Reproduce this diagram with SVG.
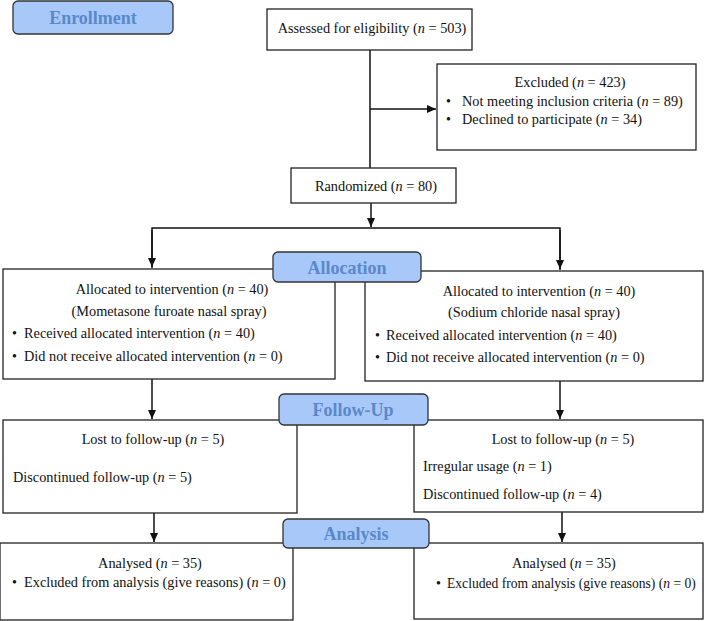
<svg xmlns="http://www.w3.org/2000/svg" width="709" height="621" viewBox="0 0 709 621">
<style>
.box{fill:#fff;stroke:#222;stroke-width:1.3}
.lab{fill:#a8c8fa;stroke:#333;stroke-width:1.3}
.lt{font-family:"Liberation Serif","Times New Roman",serif;font-size:18px;font-weight:bold;fill:#5a88c8;text-anchor:middle}
.t{font-family:"Liberation Serif","Times New Roman",serif;font-size:14.3px;fill:#111}
.t.s{font-size:13.6px}
.c{text-anchor:middle}
.b{font-size:14px}
.ln{stroke:#111;stroke-width:1.5;fill:none}
</style>
<defs>
<marker id="ah" markerWidth="10" markerHeight="10" refX="9" refY="5" orient="auto" markerUnits="userSpaceOnUse">
<path d="M0,1 L9,5 L0,9 Z" fill="#111"/>
</marker>
</defs>
<rect width="709" height="621" fill="#fff"/>

<g id="connectors">
<line class="ln" x1="370" y1="50" x2="370" y2="168"/>
<line class="ln" x1="370" y1="109" x2="436" y2="109" marker-end="url(#ah)"/>
<line class="ln" x1="371" y1="203" x2="371" y2="227" marker-end="url(#ah)"/>
<polyline class="ln" points="152,268 152,228 560,228 560,270"/>
<line class="ln" x1="152" y1="230" x2="152" y2="267" marker-end="url(#ah)"/>
<line class="ln" x1="560" y1="230" x2="560" y2="269" marker-end="url(#ah)"/>
<line class="ln" x1="152" y1="379" x2="152" y2="419" marker-end="url(#ah)"/>
<line class="ln" x1="560" y1="381" x2="560" y2="419" marker-end="url(#ah)"/>
<line class="ln" x1="154" y1="513" x2="154" y2="542" marker-end="url(#ah)"/>
<line class="ln" x1="562" y1="512" x2="562" y2="542" marker-end="url(#ah)"/>
</g>

<g id="enrollment">
<rect class="lab" x="13" y="1" width="160" height="33" rx="5"/>
<text class="lt" x="93" y="24">Enrollment</text>
</g>

<g id="assessed">
<rect class="box" x="267" y="9" width="205" height="41"/>
<text class="t c" x="372" y="33">Assessed for eligibility (<tspan font-style="italic">n</tspan> = 503)</text>
</g>

<g id="excluded">
<rect class="box" x="437" y="64" width="259" height="86"/>
<text class="t c" x="570" y="87">Excluded (<tspan font-style="italic">n</tspan> = 423)</text>
<text class="t" x="446" y="106"><tspan class="b">•</tspan><tspan x="462">Not meeting inclusion criteria (<tspan font-style="italic">n</tspan> = 89)</tspan></text>
<text class="t" x="446" y="124"><tspan class="b">•</tspan><tspan x="462">Declined to participate (<tspan font-style="italic">n</tspan> = 34)</tspan></text>
</g>

<g id="randomized">
<rect class="box" x="291" y="168" width="165" height="35"/>
<text class="t c" x="376" y="191">Randomized (<tspan font-style="italic">n</tspan> = 80)</text>
</g>

<g id="alloc-left">
<rect class="box" x="3" y="269" width="332" height="110"/>
<text class="t c" x="172" y="294">Allocated to intervention (<tspan font-style="italic">n</tspan> = 40)</text>
<text class="t c" x="169" y="316">(Mometasone furoate nasal spray)</text>
<text class="t" x="12" y="338"><tspan class="b">•</tspan><tspan x="24">Received allocated intervention (<tspan font-style="italic">n</tspan> = 40)</tspan></text>
<text class="t" x="12" y="361"><tspan class="b">•</tspan><tspan x="24">Did not receive allocated intervention (<tspan font-style="italic">n</tspan> = 0)</tspan></text>
</g>

<g id="alloc-right">
<rect class="box" x="365" y="271" width="338" height="110"/>
<text class="t c" x="539" y="296">Allocated to intervention (<tspan font-style="italic">n</tspan> = 40)</text>
<text class="t c" x="534" y="317">(Sodium chloride nasal spray)</text>
<text class="t" x="375" y="340"><tspan class="b">•</tspan><tspan x="386">Received allocated intervention (<tspan font-style="italic">n</tspan> = 40)</tspan></text>
<text class="t" x="375" y="362"><tspan class="b">•</tspan><tspan x="386">Did not receive allocated intervention (<tspan font-style="italic">n</tspan> = 0)</tspan></text>
</g>

<g id="allocation">
<rect class="lab" x="273" y="252" width="148" height="30" rx="5"/>
<text class="lt" x="347" y="274">Allocation</text>
</g>

<g id="follow-left">
<rect class="box" x="3" y="420" width="294" height="93"/>
<text class="t c" x="153" y="444">Lost to follow-up (<tspan font-style="italic">n</tspan> = 5)</text>
<text class="t" x="13" y="482">Discontinued follow-up (<tspan font-style="italic">n</tspan> = 5)</text>
</g>

<g id="follow-right">
<rect class="box" x="414" y="420" width="289" height="92"/>
<text class="t c" x="563" y="444">Lost to follow-up (<tspan font-style="italic">n</tspan> = 5)</text>
<text class="t" x="423" y="471">Irregular usage (<tspan font-style="italic">n</tspan> = 1)</text>
<text class="t" x="423" y="499">Discontinued follow-up (<tspan font-style="italic">n</tspan> = 4)</text>
</g>

<g id="followup">
<rect class="lab" x="279" y="394" width="149" height="31" rx="5"/>
<text class="lt" x="353" y="416">Follow-Up</text>
</g>

<g id="analysis-left">
<rect class="box" x="0" y="543" width="293" height="77"/>
<text class="t c" x="150" y="568">Analysed (<tspan font-style="italic">n</tspan> = 35)</text>
<text class="t" x="12" y="587"><tspan class="b">•</tspan><tspan x="24">Excluded from analysis (give reasons) (<tspan font-style="italic">n</tspan> = 0)</tspan></text>
</g>

<g id="analysis-right">
<rect class="box" x="414" y="543" width="289" height="76"/>
<text class="t c" x="564" y="568">Analysed (<tspan font-style="italic">n</tspan> = 35)</text>
<text class="t s" x="436" y="588"><tspan class="b">•</tspan><tspan x="447">Excluded from analysis (give reasons) (<tspan font-style="italic">n</tspan> = 0)</tspan></text>
</g>

<g id="analysis">
<rect class="lab" x="283" y="519" width="146" height="29" rx="5"/>
<text class="lt" x="356" y="540">Analysis</text>
</g>
</svg>
